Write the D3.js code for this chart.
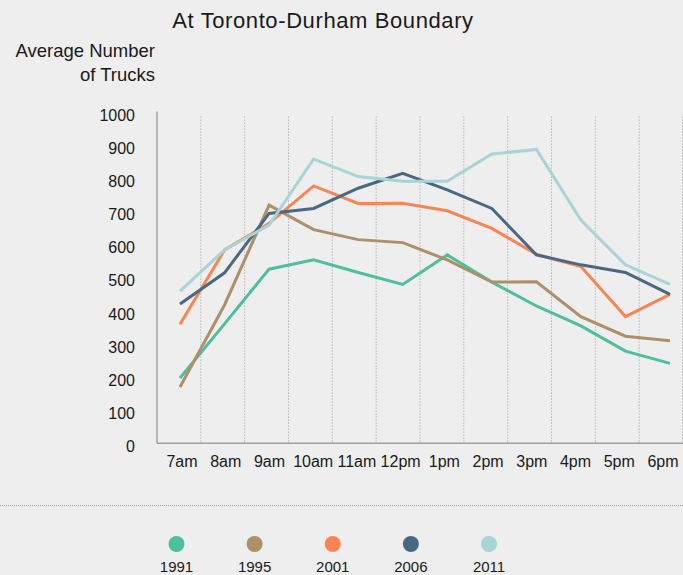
<!DOCTYPE html>
<html>
<head>
<meta charset="utf-8">
<script src="https://cdn.jsdelivr.net/npm/d3@7"></script>
<style>
  html, body { margin: 0; padding: 0; background: #eeeeee; }
  svg { display: block; font-family: "Liberation Sans", Arial, sans-serif; }
</style>
</head>
<body>
<svg id="chart" width="683" height="575"></svg>
<script>
// Hourly truck counts at the Toronto-Durham boundary, by survey year
const hours = ["7am", "8am", "9am", "10am", "11am", "12pm", "1pm", "2pm", "3pm", "4pm", "5pm", "6pm"];
const years = ["1991", "1995", "2001", "2006", "2011"];
const trucks1991 = [197, 360, 525, 553, 515, 479, 568, 486, 414, 354, 278, 241];
const trucks1995 = [170, 417, 718, 644, 614, 605, 553, 486, 487, 382, 323, 309];
const trucks2001 = [359, 583, 663, 776, 723, 724, 701, 648, 570, 533, 382, 449];
const trucks2006 = [420, 514, 693, 708, 769, 814, 764, 708, 568, 538, 515, 449];
const trucks2011 = [459, 583, 658, 857, 804, 790, 790, 872, 886, 673, 538, 479];
const yTicks = [0, 100, 200, 300, 400, 500, 600, 700, 800, 900, 1000];
const colors = ["#4dbf9f", "#ad8f69", "#f88553", "#4a6882", "#a8d4d6"];

const series = [trucks1991, trucks1995, trucks2001, trucks2006, trucks2011]
  .map((values, i) => ({ year: years[i], values, color: colors[i] }));

const svg = d3.select("#chart");

const y = d3.scaleLinear().domain([0, 1000]).range([443.3, 111.6]);
const band = d3.scaleBand().domain(hours).range([157, 683]);
const x = d3.scalePoint().domain(hours).range([180, 670]);
const xLabel = d3.scalePoint().domain(hours).range([182, 663]);

// Title
svg.append("text")
  .attr("x", 323).attr("y", 28)
  .attr("text-anchor", "middle")
  .attr("font-size", 22).attr("letter-spacing", 0.6)
  .attr("fill", "#1a1a1a")
  .text("At Toronto-Durham Boundary");

// Y-axis title
const yTitle = svg.append("text")
  .attr("text-anchor", "end")
  .attr("font-size", 18.5)
  .attr("fill", "#1a1a1a");
yTitle.append("tspan").attr("x", 155).attr("y", 57).text("Average Number");
yTitle.append("tspan").attr("x", 155).attr("y", 81).text("of Trucks");

// Dotted vertical separators between hours
svg.append("g")
  .selectAll("line")
  .data(hours.slice(1).concat(["end"]))
  .join("line")
  .attr("x1", d => d === "end" ? band.range()[1] - 0.5 : band(d))
  .attr("x2", d => d === "end" ? band.range()[1] - 0.5 : band(d))
  .attr("y1", y(1000) + 5)
  .attr("y2", y(0))
  .attr("stroke", "#9a9a9a")
  .attr("stroke-width", 1)
  .attr("stroke-dasharray", "1,2");

// Axis lines
svg.append("line")
  .attr("x1", 157).attr("x2", 157)
  .attr("y1", y(1000)).attr("y2", y(0))
  .attr("stroke", "#a0a0a0").attr("stroke-width", 1.5);
svg.append("line")
  .attr("x1", 157).attr("x2", 683)
  .attr("y1", y(0)).attr("y2", y(0))
  .attr("stroke", "#a0a0a0").attr("stroke-width", 1.5);

// Y tick labels
svg.append("g")
  .selectAll("text")
  .data(yTicks)
  .join("text")
  .attr("x", 135)
  .attr("y", d => y(d) + 9)
  .attr("text-anchor", "end")
  .attr("font-size", 16)
  .attr("fill", "#1a1a1a")
  .text(d => d);

// X tick labels
svg.append("g")
  .selectAll("text")
  .data(hours)
  .join("text")
  .attr("x", d => xLabel(d))
  .attr("y", 467)
  .attr("text-anchor", "middle")
  .attr("font-size", 16)
  .attr("fill", "#1a1a1a")
  .text(d => d);

// Series lines
const line = d3.line()
  .x((d, i) => x(hours[i]))
  .y(d => y(d));

svg.append("g")
  .selectAll("path")
  .data(series)
  .join("path")
  .attr("d", d => line(d.values))
  .attr("fill", "none")
  .attr("stroke", d => d.color)
  .attr("stroke-width", 3)
  .attr("stroke-linejoin", "miter");

// Separator above the legend
svg.append("line")
  .attr("x1", 0).attr("x2", 683)
  .attr("y1", 505.5).attr("y2", 505.5)
  .attr("stroke", "#9a9a9a")
  .attr("stroke-width", 1)
  .attr("stroke-dasharray", "1,1");

// Legend
const lx = d3.scalePoint().domain(years).range([176.5, 489]);
const legend = svg.append("g")
  .selectAll("g")
  .data(series)
  .join("g")
  .attr("transform", d => `translate(${lx(d.year)},0)`);
legend.append("circle")
  .attr("cx", 0).attr("cy", 544)
  .attr("r", 8)
  .attr("fill", d => d.color);
legend.append("text")
  .attr("x", 0).attr("y", 572)
  .attr("text-anchor", "middle")
  .attr("font-size", 15)
  .attr("fill", "#1a1a1a")
  .text(d => d.year);
</script>
</body>
</html>
